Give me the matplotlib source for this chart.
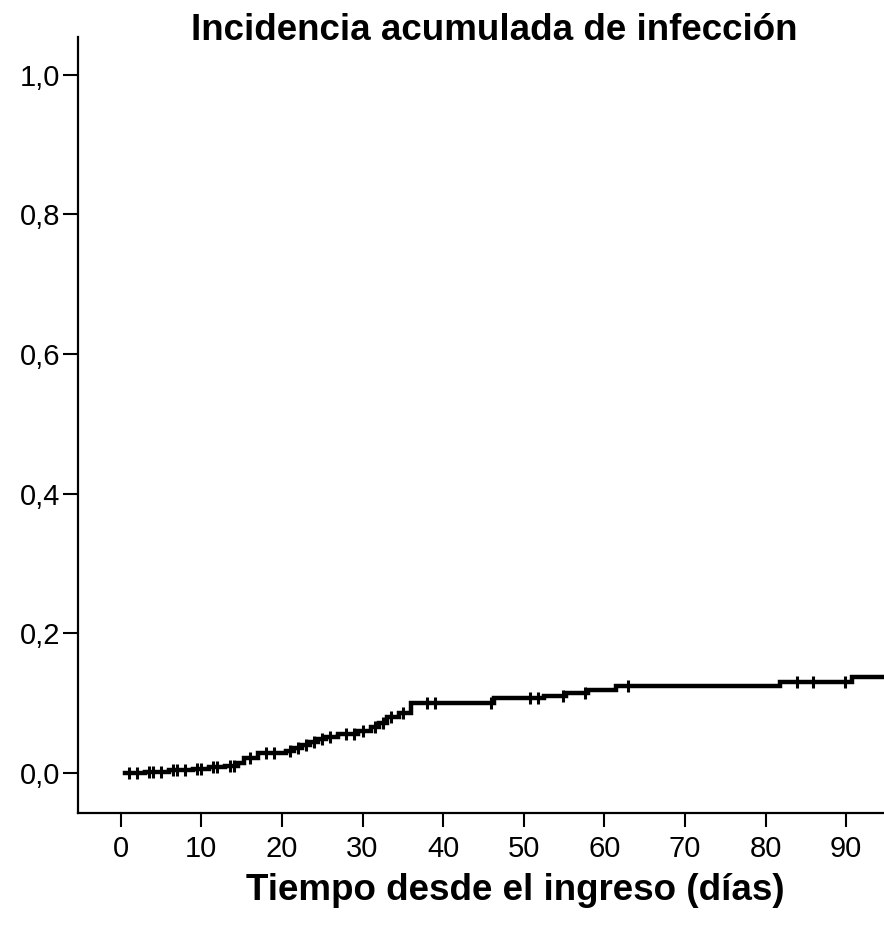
import numpy as np
import matplotlib
matplotlib.use("Agg")
import matplotlib.pyplot as plt

plt.rcParams['font.family'] = ['Liberation Sans', 'DejaVu Sans']

# Step function: event times (days) and cumulative incidence after each step
event_days = [0.5, 3, 6, 9, 11, 13, 14.5, 15.3, 17, 20.5, 21.5, 22.5, 23.5,
              24.5, 25.5, 27, 29.5, 31, 32, 33, 34.5, 36, 46.3, 52.5, 55.3,
              58, 61.5, 81.8, 90.7]
cum_incidence = [0.0, 0.002, 0.004, 0.006, 0.008, 0.010, 0.014, 0.022, 0.028,
                 0.032, 0.036, 0.040, 0.044, 0.048, 0.052, 0.056, 0.060,
                 0.066, 0.072, 0.080, 0.086, 0.100, 0.107, 0.110, 0.115,
                 0.119, 0.125, 0.130, 0.137]

# Censored observations (days)
censor_days = [1, 2, 3.5, 4, 5, 6.5, 7, 8, 9.5, 10, 11.5, 12, 13.5, 14, 16,
               18, 19, 21, 22, 23, 24, 25, 26, 28, 29, 30, 31.5, 32.5, 33.5,
               35, 38, 39, 46, 50.8, 51.8, 54.9, 57.6, 63, 83.9, 85.9, 89.9]

x_ticks = [0, 10, 20, 30, 40, 50, 60, 70, 80, 90]
y_ticks = [0.0, 0.2, 0.4, 0.6, 0.8, 1.0]
y_labels = ["0,0", "0,2", "0,4", "0,6", "0,8", "1,0"]

x_max = 94.7

fig = plt.figure(figsize=(8.84, 9.35), dpi=100)
ax = fig.add_axes([78 / 884, 122 / 935, 806 / 884, 776 / 935])

xs = event_days + [x_max]
ys = cum_incidence + [cum_incidence[-1]]
ax.step(xs, ys, where='post', color='black', lw=3.2, solid_joinstyle='miter')

# censor marks sit on the current step level
idx = np.searchsorted(event_days, censor_days, side='right') - 1
censor_y = np.array(cum_incidence)[idx]
ax.plot(censor_days, censor_y, linestyle='none', marker='|', color='black',
        markersize=9, markeredgewidth=2.2)

ax.set_xlim(-5.3, x_max)
ax.set_ylim(-0.0573, 1.054)

for side in ['top', 'right']:
    ax.spines[side].set_visible(False)
for side in ['left', 'bottom']:
    ax.spines[side].set_linewidth(1.6)

ax.set_xticks(x_ticks)
ax.set_xticklabels([str(v) for v in x_ticks])
ax.set_yticks(y_ticks)
ax.set_yticklabels(y_labels)
ax.tick_params(axis='y', length=11, width=1.5, pad=2, labelsize=21)
ax.tick_params(axis='x', length=10, width=1.5, pad=6, labelsize=21)

fig.text(494 / 884, 1 - 30 / 935, "Incidencia acumulada de infección",
         ha='center', va='center', fontsize=26.5, fontweight='bold')
fig.text(515 / 884, 1 - 890 / 935, "Tiempo desde el ingreso (días)",
         ha='center', va='center', fontsize=26.5, fontweight='bold')

fig.savefig("out.png", dpi=100)
